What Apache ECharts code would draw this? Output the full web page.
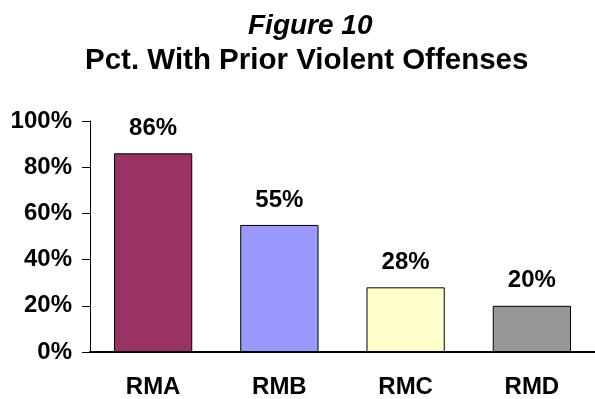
<!DOCTYPE html>
<html>
<head>
<meta charset="utf-8">
<script src="https://cdn.jsdelivr.net/npm/echarts@6/dist/echarts.min.js"></script>
<style>
  html, body { margin: 0; padding: 0; background: #fff; }
  #chart { width: 595px; height: 399px; }
</style>
</head>
<body>
<div id="chart"></div>
<script>
// Share of each group with prior violent offenses (percent)
const categories = ['RMA', 'RMB', 'RMC', 'RMD'];
const values = [86, 55, 28, 20];
const barColors = ['#993366', '#9999FF', '#FFFFCC', '#969696'];
const yTicks = [0, 20, 40, 60, 80, 100];

const font = 'Liberation Sans, Arial, Helvetica, sans-serif';
const chart = echarts.init(document.getElementById('chart'));

chart.setOption({
  animation: false,
  title: [
    {
      text: 'Figure 10',
      left: 243,
      top: 7,
      textStyle: { fontFamily: font, fontSize: 28, fontWeight: 'bold', fontStyle: 'italic', color: '#000' }
    },
    {
      text: 'Pct. With Prior Violent Offenses',
      left: 80,
      top: 41,
      textStyle: { fontFamily: font, fontSize: 29.5, fontWeight: 'bold', color: '#000' }
    }
  ],
  grid: { left: 90, top: 121, width: 510, height: 234, containLabel: false },
  xAxis: {
    type: 'category',
    data: categories,
    axisLine: { lineStyle: { color: '#000', width: 2 } },
    axisTick: { show: false },
    axisLabel: { margin: 23, fontFamily: font, fontSize: 24, fontWeight: 'bold', color: '#000' }
  },
  yAxis: {
    type: 'value',
    min: 0,
    max: 100,
    interval: 20,
    splitLine: { show: false },
    axisLine: { show: true, lineStyle: { color: '#000', width: 1 } },
    axisTick: { show: true, length: 8, lineStyle: { color: '#000' } },
    axisLabel: {
      margin: 18,
      fontFamily: font, fontSize: 24, fontWeight: 'bold', color: '#000',
      formatter: v => (yTicks.includes(v) ? v + '%' : '')
    }
  },
  series: [{
    type: 'bar',
    barWidth: '62%',
    data: values.map((v, i) => ({
      value: v,
      itemStyle: { color: barColors[i], borderColor: '#000', borderWidth: 1 }
    })),
    label: {
      show: true,
      position: 'top',
      distance: 13,
      formatter: p => p.value + '%',
      fontFamily: font, fontSize: 24, fontWeight: 'bold', color: '#000'
    }
  }]
});
</script>
</body>
</html>
